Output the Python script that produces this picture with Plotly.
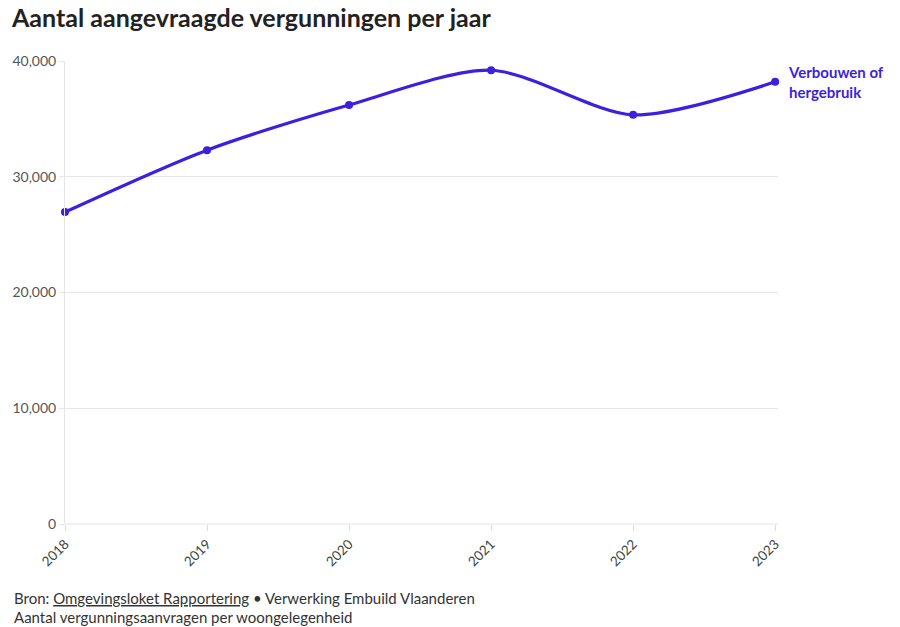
import plotly.graph_objects as go

years = [2018, 2019, 2020, 2021, 2022, 2023]
values = [26950, 32300, 36200, 39200, 35350, 38200]
y_ticks = [0, 10000, 20000, 30000, 40000]
series_name = "Verbouwen of<br>hergebruik"
color = "#3D1FE0"
font = "Lato, 'Noto Sans', sans-serif"

W, H = 900, 627
L, R, T, B = 65, 122, 61, 103
pw, ph = W - L - R, H - T - B


def px_x(x):
    return (x - L) / pw


def px_y(y):
    return (H - B - y) / ph


fig = go.Figure()
fig.add_trace(go.Scatter(
    x=years, y=values, mode="lines+markers",
    line=dict(color=color, width=3.2, shape="spline", smoothing=0.8),
    marker=dict(color=color, size=8),
    hoverinfo="skip", showlegend=False, cliponaxis=False,
))

fig.update_layout(
    width=W, height=H,
    margin=dict(l=L, r=R, t=T, b=B),
    paper_bgcolor="white", plot_bgcolor="white",
    font=dict(family=font, color="#444"),
    title=dict(
        text="<b>Aantal aangevraagde vergunningen per jaar</b>",
        x=12 / W, xanchor="left", xref="container",
        y=1 - 18 / H, yanchor="middle", yref="container",
        font=dict(family=font, size=25, color="#222"),
    ),
    xaxis=dict(
        range=[2018, 2023.02], tickvals=years, ticktext=[str(y) for y in years],
        tickangle=-45, showgrid=False, zeroline=False,
        showline=False, ticks="outside", ticklen=6, tickcolor="#ddd",
        tickfont=dict(size=13.5, color="#444"),
    ),
    yaxis=dict(
        range=[0, 40000], tickvals=y_ticks, tickformat=",",
        showgrid=True, gridcolor="#e6e6e6", gridwidth=1,
        zeroline=False, showline=True, linecolor="#e6e6e6",
        ticks="outside", ticklen=5, tickcolor="#e6e6e6",
        tickfont=dict(size=14, color="#555"),
    ),
    annotations=[
        dict(x=years[-1], y=values[-1], xref="x", yref="y",
             text="<b>" + series_name + "</b>", showarrow=False,
             xanchor="left", yanchor="middle", xshift=11, align="left",
             font=dict(family=font, size=15, color=color)),
        dict(x=px_x(12), y=px_y(598), xref="paper", yref="paper",
             text="Bron: <u>Omgevingsloket Rapportering</u> • Verwerking Embuild Vlaanderen",
             showarrow=False, xanchor="left", yanchor="middle",
             font=dict(family=font, size=15, color="#333")),
        dict(x=px_x(12), y=px_y(617), xref="paper", yref="paper",
             text="Aantal vergunningsaanvragen per woongelegenheid",
             showarrow=False, xanchor="left", yanchor="middle",
             font=dict(family=font, size=15, color="#333")),
    ],
)

fig.add_shape(type="line", xref="paper", yref="paper",
              x0=0, x1=1, y0=0, y1=0, line=dict(color="#e6e6e6", width=1))

fig.write_html("out.html")
